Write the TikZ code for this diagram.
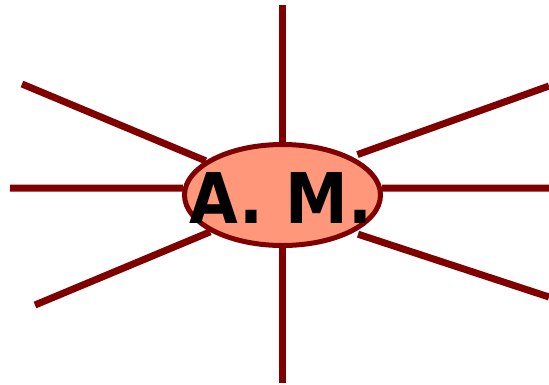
\documentclass[tikz,border=0pt]{standalone}
\usepackage{fontspec}
\newfontfamily\hubfont[FakeStretch=0.9]{DejaVu Sans}
\usetikzlibrary{shapes.geometric}
\definecolor{maroonline}{HTML}{800000}
\definecolor{salmonfill}{HTML}{FF977B}

\begin{document}
\begin{tikzpicture}[
  x=1pt, y=-1pt,
  hub/.style={ellipse, draw=maroonline, fill=salmonfill, line width=5pt,
              minimum width=196pt, minimum height=101pt, inner sep=0pt},
  hubtext/.style={font=\hubfont\bfseries\fontsize{70}{70}\selectfont,
                  inner sep=0pt, text=black},
  ray/.style={draw=maroonline, line width=7pt}
]
\useasboundingbox (0,0) rectangle (549,384);
\coordinate (top) at (282.5,5);
\coordinate (bot) at (282.5,383);
\coordinate (lft) at (10,188);
\coordinate (rgt) at (549,188);
\coordinate (ul) at (22,84);
\coordinate (ll) at (35,305);
\coordinate (ur) at (549,86);
\coordinate (lr) at (549,297);
\node[hub] (am) at (282.5,195) {};
\draw[ray] (top) -- (am);
\draw[ray] (bot) -- (am);
\draw[ray] (lft) -- (am.176);
\draw[ray] (rgt) -- (am.4);
\draw[ray] (ul) -- (am.156);
\draw[ray] (ll) -- (am.207);
\draw[ray, shorten >=6pt] (ur) -- (am.29);
\draw[ray, shorten >=5pt] (lr) -- (am.332);
\node[hubtext] (label) at (281,197.5) {A. M.};
\end{tikzpicture}
\end{document}
